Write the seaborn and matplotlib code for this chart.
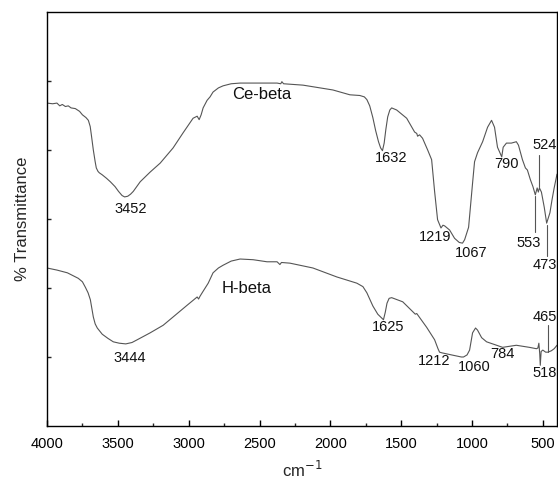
import matplotlib
matplotlib.use("Agg")
import matplotlib.pyplot as plt
import seaborn as sns
import pandas as pd
from matplotlib.ticker import MultipleLocator, NullFormatter

# FTIR spectra of two beta zeolites (wavenumber in cm^-1, transmittance in arbitrary units)
ce_wn = [4000, 3960, 3930, 3910, 3892, 3870, 3850, 3830, 3800, 3770, 3750, 3725,
         3708, 3695, 3687, 3673, 3660, 3652, 3640, 3631, 3610, 3580, 3553, 3520,
         3495, 3470, 3452, 3430, 3410, 3391, 3342, 3272, 3201, 3110, 3039, 2969,
         2940, 2926, 2912, 2898, 2870, 2849, 2828, 2790, 2757, 2700, 2637, 2496,
         2376, 2350, 2342, 2330, 2193, 1982, 1862, 1792, 1760, 1742, 1722, 1700,
         1680, 1660, 1645, 1632, 1620, 1608, 1595, 1580, 1567, 1532, 1461, 1405,
         1390, 1384, 1370, 1349, 1313, 1285, 1264, 1243, 1219, 1205, 1193, 1158,
         1123, 1090, 1067, 1052, 1024, 996, 982, 961, 925, 890, 862, 841, 820,
         790, 780, 757, 722, 687, 672, 644, 623, 609, 588, 570, 553, 540, 532,
         524, 510, 490, 473, 450, 435, 420, 400]
ce_t = [4.68, 4.67, 4.68, 4.64, 4.66, 4.63, 4.64, 4.61, 4.60, 4.56, 4.51, 4.47,
        4.43, 4.34, 4.22, 4.00, 3.83, 3.74, 3.69, 3.67, 3.64, 3.59, 3.54, 3.47,
        3.40, 3.34, 3.32, 3.33, 3.36, 3.40, 3.54, 3.68, 3.81, 4.03, 4.25, 4.46,
        4.49, 4.44, 4.51, 4.61, 4.72, 4.77, 4.84, 4.90, 4.93, 4.96, 4.97, 4.97,
        4.97, 4.96, 4.99, 4.96, 4.94, 4.87, 4.80, 4.79, 4.77, 4.73, 4.64, 4.47,
        4.28, 4.12, 4.03, 3.99, 4.10, 4.30, 4.48, 4.58, 4.61, 4.58, 4.46, 4.26,
        4.24, 4.20, 4.22, 4.17, 4.00, 3.86, 3.40, 2.99, 2.87, 2.91, 2.90, 2.84,
        2.72, 2.66, 2.65, 2.70, 2.88, 3.52, 3.83, 3.96, 4.12, 4.33, 4.43, 4.33,
        4.04, 3.90, 4.04, 4.10, 4.10, 4.12, 4.07, 3.86, 3.74, 3.71, 3.57, 3.47,
        3.35, 3.45, 3.39, 3.45, 3.39, 3.17, 2.94, 3.09, 3.28, 3.45, 3.65]

h_wn = [4000, 3930, 3856, 3779, 3750, 3729, 3710, 3694, 3673, 3660, 3645, 3610,
        3570, 3532, 3490, 3444, 3400, 3363, 3272, 3180, 3110, 3011, 2940, 2930,
        2920, 2905, 2862, 2828, 2790, 2757, 2700, 2637, 2545, 2447, 2376, 2356,
        2345, 2285, 2123, 1954, 1813, 1770, 1742, 1700, 1665, 1640, 1625, 1612,
        1600, 1585, 1567, 1489, 1400, 1390, 1320, 1264, 1240, 1229, 1212, 1144,
        1075, 1060, 1035, 1017, 996, 975, 961, 932, 897, 826, 784, 687, 595,
        545, 535, 528, 522, 518, 512, 500, 480, 465, 440, 420, 400]
h_t = [2.29, 2.26, 2.22, 2.14, 2.09, 2.01, 1.93, 1.83, 1.58, 1.48, 1.42, 1.33,
       1.27, 1.22, 1.20, 1.19, 1.21, 1.25, 1.35, 1.46, 1.58, 1.75, 1.87, 1.84,
       1.88, 1.93, 2.07, 2.22, 2.29, 2.33, 2.39, 2.42, 2.41, 2.38, 2.38, 2.34,
       2.37, 2.36, 2.29, 2.16, 2.07, 2.02, 1.93, 1.74, 1.62, 1.57, 1.54, 1.65,
       1.78, 1.85, 1.86, 1.80, 1.62, 1.63, 1.43, 1.25, 1.12, 1.07, 1.06, 1.03,
       1.00, 1.00, 1.03, 1.10, 1.35, 1.42, 1.39, 1.28, 1.22, 1.17, 1.14, 1.17,
       1.14, 1.12, 1.13, 1.20, 1.05, 0.88, 1.08, 1.10, 1.07, 1.07, 1.09, 1.12,
       1.17]

sample_names = ["Ce-beta", "H-beta"]

# peak labels: (text, x, y) and leader lines: (wavenumber, y_start, y_end)
ce_peaks = [("3452", 3412, 3.14), ("1632", 1574, 3.88), ("790", 757, 3.80),
            ("524", 489, 4.07), ("1219", 1257, 2.74), ("1067", 1003, 2.51),
            ("553", 601, 2.65), ("473", 489, 2.33)]
ce_leaders = [(524, 3.47, 3.93), (553, 3.33, 2.81), (473, 2.92, 2.47)]
h_peaks = [("3444", 3419, 0.99), ("1625", 1595, 1.43), ("1212", 1264, 0.94),
           ("1060", 982, 0.86), ("784", 785, 1.04), ("465", 489, 1.58),
           ("518", 489, 0.77)]
h_leaders = [(465, 1.07, 1.46)]
name_pos = [(2482, 4.80), (2589, 1.99)]

sns.set_theme(style="ticks")
plt.rcParams["font.family"] = ["Liberation Sans", "DejaVu Sans"]

fig = plt.figure(figsize=(5.58, 4.80), dpi=100)
ax = fig.add_axes([47 / 558, 54 / 480, 510 / 558, 414 / 480])

df = pd.concat([
    pd.DataFrame({"wn": ce_wn, "t": ce_t, "sample": sample_names[0]}),
    pd.DataFrame({"wn": h_wn, "t": h_t, "sample": sample_names[1]}),
])
sns.lineplot(data=df, x="wn", y="t", units="sample", estimator=None, sort=False,
             color="#555555", linewidth=0.8, ax=ax, legend=False)

lab_fs = 10.5
for txt, x, y in ce_peaks + h_peaks:
    ax.text(x, y, txt, ha="center", va="center", fontsize=lab_fs, color="#111111")
for wn, y0, y1 in ce_leaders + h_leaders:
    ax.plot([wn, wn], [y0, y1], color="#555555", linewidth=0.8)
for name, (x, y) in zip(sample_names, name_pos):
    ax.text(x, y, name, ha="center", va="center", fontsize=12, color="#111111")

ax.set_xlim(4000, 400)
ax.set_ylim(0, 6)
ax.xaxis.set_major_locator(MultipleLocator(500))
ax.xaxis.set_minor_locator(MultipleLocator(250))
ax.set_yticks([1, 2, 3, 4, 5])
ax.yaxis.set_major_formatter(NullFormatter())
ax.tick_params(axis="x", which="major", direction="in", length=4.5, width=1.0,
               pad=8, labelsize=10.5, colors="black")
ax.tick_params(axis="x", which="minor", direction="in", length=2.3, width=1.0)
ax.tick_params(axis="y", which="major", direction="in", length=3, width=1.0)
for s in ax.spines.values():
    s.set_visible(True)
    s.set_color("black")
    s.set_linewidth(1.0)

ax.set_xlabel("cm$^{-1}$", fontsize=12, labelpad=6)
ax.set_ylabel("% Transmittance", fontsize=12, labelpad=9)

fig.savefig("out.png", dpi=100, facecolor="white")
